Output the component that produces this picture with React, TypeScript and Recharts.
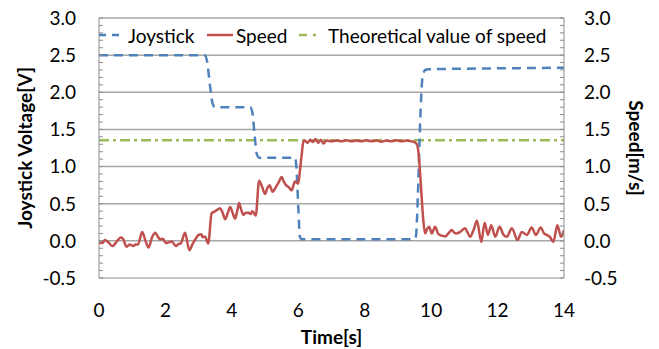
import React from 'react';
import { LineChart, Line, XAxis, YAxis, ReferenceLine } from 'recharts';

const joystickTime = [0, 3.19, 3.26, 3.34, 3.42, 3.49, 4.55, 4.62, 4.68, 4.75, 4.82, 5.9, 5.95, 6.0, 6.05, 6.12, 9.47, 9.54, 9.6, 9.67, 9.74, 9.82, 9.92, 11.5, 14];
const joystickVoltage = [2.5, 2.5, 2.4, 2.1, 1.85, 1.8, 1.8, 1.72, 1.45, 1.17, 1.12, 1.12, 0.95, 0.45, 0.05, 0.02, 0.02, 0.06, 0.6, 1.6, 2.2, 2.3, 2.31, 2.32, 2.33];

const speedTime = [0.0, 0.1, 0.18, 0.28, 0.41, 0.55, 0.65, 0.72, 0.83, 0.93, 1.03, 1.1, 1.18, 1.3, 1.4, 1.49, 1.6, 1.69, 1.78, 1.84, 1.92, 2.02, 2.1, 2.19, 2.32, 2.4, 2.46, 2.59, 2.72, 2.82, 2.94, 3.0, 3.08, 3.12, 3.19, 3.29, 3.39, 3.46, 3.54, 3.64, 3.72, 3.8, 3.88, 3.95, 4.02, 4.1, 4.16, 4.22, 4.28, 4.35, 4.42, 4.5, 4.56, 4.62, 4.72, 4.82, 4.9, 5.0, 5.06, 5.13, 5.23, 5.32, 5.4, 5.5, 5.56, 5.63, 5.72, 5.8, 5.9, 6.0, 6.05, 6.1, 6.15, 6.2, 6.28, 6.36, 6.44, 6.52, 6.6, 6.68, 6.76, 6.85, 7.0, 7.15, 7.3, 7.45, 7.6, 7.75, 7.9, 8.05, 8.2, 8.35, 8.5, 8.65, 8.8, 8.95, 9.1, 9.25, 9.4, 9.5, 9.57, 9.62, 9.67, 9.72, 9.77, 9.82, 9.88, 9.94, 10.02, 10.12, 10.22, 10.32, 10.42, 10.52, 10.62, 10.7, 10.77, 10.9, 11.02, 11.1, 11.17, 11.28, 11.38, 11.51, 11.61, 11.71, 11.81, 11.93, 12.06, 12.18, 12.28, 12.43, 12.6, 12.73, 12.88, 13.03, 13.15, 13.3, 13.4, 13.48, 13.58, 13.68, 13.8, 13.91, 14.0];
const speedValue = [-0.02, -0.03, 0.01, -0.02, -0.07, 0.0, 0.045, 0.03, -0.08, -0.05, -0.07, -0.05, -0.045, 0.12, 0.0, -0.09, 0.05, 0.11, 0.05, 0.02, 0.03, -0.03, -0.02, -0.01, -0.07, -0.04, -0.035, 0.11, -0.125, -0.04, 0.05, 0.08, 0.09, 0.05, 0.06, -0.035, 0.37, 0.39, 0.41, 0.44, 0.38, 0.29, 0.38, 0.455, 0.38, 0.3, 0.4, 0.51, 0.42, 0.35, 0.38, 0.38, 0.36, 0.4, 0.34, 0.81, 0.74, 0.63, 0.7, 0.75, 0.66, 0.72, 0.78, 0.86, 0.8, 0.75, 0.72, 0.68, 0.8, 0.77, 0.95, 1.15, 1.33, 1.35, 1.32, 1.36, 1.33, 1.37, 1.32, 1.36, 1.31, 1.35, 1.34, 1.35, 1.34, 1.355, 1.34, 1.35, 1.34, 1.355, 1.34, 1.35, 1.335, 1.35, 1.34, 1.355, 1.34, 1.35, 1.34, 1.33, 1.3, 1.18, 0.9, 0.55, 0.25, 0.1, 0.16, 0.19, 0.1, 0.19, 0.09, 0.07, 0.06, 0.1, 0.145, 0.11, 0.1, 0.13, 0.17, 0.11, 0.055, 0.15, 0.27, -0.015, 0.245, 0.08, 0.21, 0.055, 0.19, 0.08, 0.055, 0.17, 0.01, 0.12, 0.08, 0.18, 0.08, 0.18, 0.1, 0.08, 0.05, -0.015, 0.21, 0.055, 0.145];

const theoreticalTime = [0, 14];
const theoreticalSpeed = [1.355, 1.355];

const xTicks = [0, 2, 4, 6, 8, 10, 12, 14];
const yMajorTicks = [-0.5, 0, 0.5, 1, 1.5, 2, 2.5, 3];
const gridValues = [0, 0.5, 1, 1.5, 2, 2.5, 3];

const seriesNames = ['Joystick', 'Speed', 'Theoretical value of speed'];
const seriesColors = ['#4F81BD', '#C0504D', '#9BBB59'];
const seriesDash = ['9 6', undefined, '10 4 3 4'];

const joystickData = joystickTime.map((t, i) => ({ t, v: joystickVoltage[i] }));
const speedData = speedTime.map((t, i) => ({ t, v: speedValue[i] }));
const theoreticalData = theoreticalTime.map((t, i) => ({ t, v: theoreticalSpeed[i] }));

// minor + major tick positions at 0.1 steps
const allYTicks: number[] = [];
for (let k = -5; k <= 30; k++) allYTicks.push(Math.round(k) / 10);

const FONT = 'Lato, "Open Sans", sans-serif';
const TICK_FS = 19;
const TITLE_FS = 19;
const AXIS_COLOR = '#8C8C8C';
const GRID_COLOR = '#A6A6A6';

const isMajor = (v: number) => yMajorTicks.some((m) => Math.abs(m - v) < 1e-6);

const LeftTick = (props: any) => {
  const { x, y, payload } = props;
  const v = payload.value as number;
  return (
    <g>
      <line x1={x} x2={x + 4} y1={y} y2={y} stroke={AXIS_COLOR} strokeWidth={1} />
      {isMajor(v) && (
        <text x={x - 23} y={y} dy="0.36em" textAnchor="end" fill="#000" fontSize={TICK_FS} fontFamily={FONT}>
          {v.toFixed(1)}
        </text>
      )}
    </g>
  );
};

const RightTick = (props: any) => {
  const { x, y, payload } = props;
  const v = payload.value as number;
  return (
    <g>
      <line x1={x} x2={x - 4} y1={y} y2={y} stroke={AXIS_COLOR} strokeWidth={1} />
      {isMajor(v) && (
        <text x={x + 20} y={y} dy="0.36em" textAnchor="start" fill="#000" fontSize={TICK_FS} fontFamily={FONT}>
          {v.toFixed(1)}
        </text>
      )}
    </g>
  );
};

const LegendBox = () => {
  const starts = [99, 207, 299];
  return (
    <div style={{ position: 'absolute', left: 0, top: 22, width: 659, height: 26, fontFamily: FONT, fontSize: 19, color: '#000' }}>
      {seriesNames.map((name, i) => (
        <div key={name} style={{ position: 'absolute', left: starts[i], top: 0, height: 26, display: 'flex', alignItems: 'center', whiteSpace: 'nowrap' }}>
          <svg width={26} height={26} style={{ display: 'block' }}>
            <line x1={0} x2={26} y1={13} y2={13} stroke={seriesColors[i]} strokeWidth={2.5} strokeDasharray={i === 0 ? '7 6' : i === 2 ? '8 6 3 20' : undefined} />
          </svg>
          <span style={{ marginLeft: 3 }}>{name}</span>
        </div>
      ))}
    </div>
  );
};

export default function App() {
  return (
    <div style={{ position: 'absolute', left: 0, top: 0, width: 659, height: 349, background: '#fff' }}>
      <LineChart width={659} height={349} margin={{ top: 18, right: 0, bottom: 0, left: 0 }}>
        <XAxis
          dataKey="t"
          type="number"
          domain={[0, 14]}
          ticks={xTicks}
          allowDataOverflow
          tickLine={false}
          tickSize={0}
          tickMargin={26}
          height={71}
          axisLine={{ stroke: AXIS_COLOR, strokeWidth: 1 }}
          tick={{ fill: '#000', fontSize: TICK_FS, fontFamily: FONT }}
          label={{ value: 'Time[s]', position: 'insideBottom', offset: 5, fill: '#000', fontSize: TITLE_FS, fontWeight: 'bold', fontFamily: FONT }}
        />
        <YAxis
          yAxisId="left"
          type="number"
          domain={[-0.5, 3]}
          ticks={allYTicks}
          interval={0}
          tickLine={false}
          tickSize={0}
          tickMargin={0}
          width={99}
          axisLine={{ stroke: AXIS_COLOR, strokeWidth: 1 }}
          tick={<LeftTick />}
          label={{ value: 'Joystick Voltage[V]', angle: -90, position: 'insideLeft', offset: 25, fill: '#000', fontSize: TITLE_FS, fontWeight: 'bold', fontFamily: FONT, style: { textAnchor: 'middle' } }}
        />
        <YAxis
          yAxisId="right"
          orientation="right"
          type="number"
          domain={[-0.5, 3]}
          ticks={allYTicks}
          interval={0}
          tickLine={false}
          tickSize={0}
          tickMargin={0}
          width={95}
          axisLine={{ stroke: AXIS_COLOR, strokeWidth: 1 }}
          tick={<RightTick />}
          label={{ value: 'Speed[m/s]', angle: 90, position: 'insideRight', offset: 23, fill: '#000', fontSize: TITLE_FS, fontWeight: 'bold', fontFamily: FONT, style: { textAnchor: 'middle' } }}
        />
        {gridValues.map((g) => (
          <ReferenceLine key={g} y={g} yAxisId="left" stroke={GRID_COLOR} strokeWidth={1.5} ifOverflow="extendDomain" />
        ))}
        <Line
          yAxisId="left"
          data={theoreticalData}
          dataKey="v"
          name={seriesNames[2]}
          type="linear"
          stroke={seriesColors[2]}
          strokeWidth={2.5}
          strokeDasharray={seriesDash[2]}
          dot={false}
          isAnimationActive={false}
        />
        <Line
          yAxisId="left"
          data={joystickData}
          dataKey="v"
          name={seriesNames[0]}
          type="monotone"
          stroke={seriesColors[0]}
          strokeWidth={2.5}
          strokeDasharray={seriesDash[0]}
          dot={false}
          isAnimationActive={false}
        />
        <Line
          yAxisId="right"
          data={speedData}
          dataKey="v"
          name={seriesNames[1]}
          type="monotone"
          stroke={seriesColors[1]}
          strokeWidth={2.5}
          dot={false}
          isAnimationActive={false}
        />
      </LineChart>
      <LegendBox />
    </div>
  );
}
